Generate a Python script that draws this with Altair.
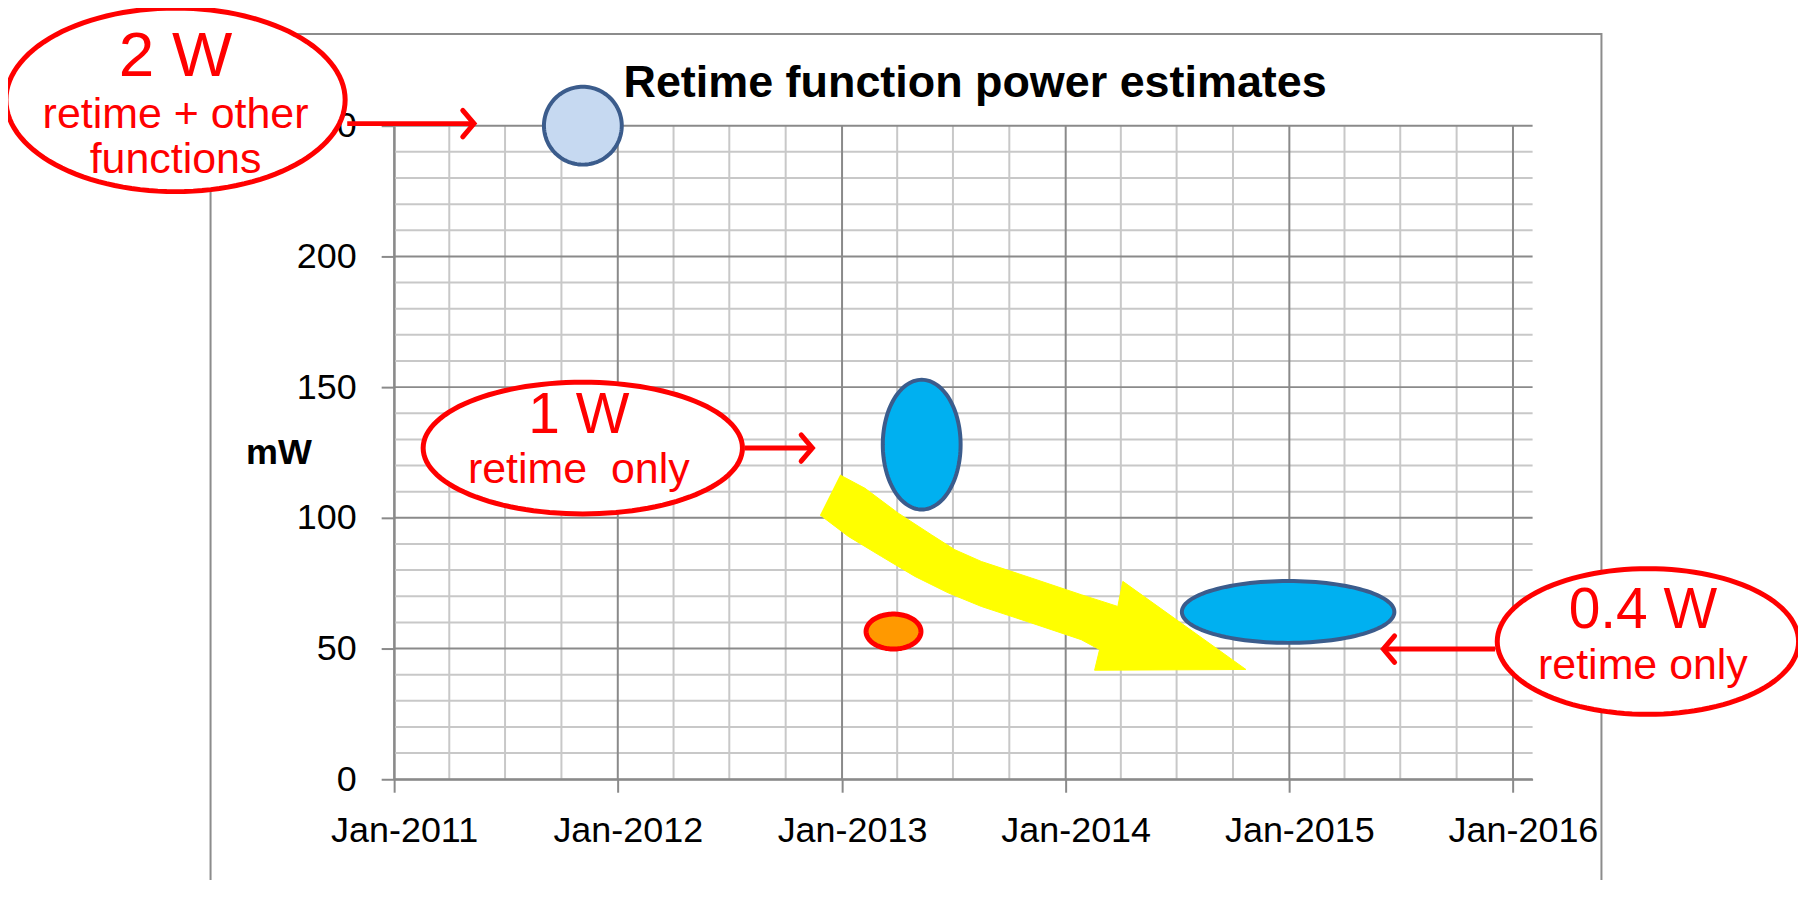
import math
import altair as alt
import pandas as pd

T0 = pd.Timestamp("2011-01-01")


def when(years_from_2011):
    """Convert a position given in years after Jan-2011 to a timestamp."""
    return T0 + pd.Timedelta(days=years_from_2011 * 365.25)


# ---------------- data ----------------
bubble_names = ["retime + other functions", "retime only (2013)", "early estimate", "retime only (2015)"]
bubble_dates = ["2011-11-05", "2013-05-11", "2013-03-26", "2014-12-30"]
bubble_mw = [250, 128, 56.5, 64]

x_tick_years = [2011, 2012, 2013, 2014, 2015, 2016]
x_minor_months = [4, 7, 10]
y_tick_values = [0, 50, 100, 150, 200, 250]
y_minor_values = [10, 20, 30, 40, 60, 70, 80, 90, 110, 120, 130, 140,
                  160, 170, 180, 190, 210, 220, 230, 240]

chart_title = "Retime function power estimates"
y_title = "mW"

# call-outs (positions in years after Jan-2011, and mW)
callout_big = ["2 W", "1 W", "0.4 W"]
callout_text_x = [-0.9768, 0.8252, 5.5799]
callout_big_y = [269.1, 132.4, 58.0]
callout_small = [["retime + other", "functions"], ["retime\u00a0 only"], ["retime only"]]
callout_small_y = [[249.2, 232.1], [113.4], [38.2]]
callout_ellipse_x = [-0.9768, 0.8430, 5.6022]
callout_ellipse_y = [259.9, 126.7, 52.7]
arrow_from = [-0.2096, 1.5656, 4.9197]
arrow_to = [0.3568, 1.8689, 4.4201]
arrow_y = [250.8, 126.7, 49.8]

# yellow trend arrow outline (years after Jan-2011, mW)
trend_x = [1.9924, 2.1039, 2.2525, 2.4010, 2.5053, 2.6240, 2.8470, 3.0700, 3.2337,
           3.2560, 3.8060, 3.1298, 3.1521,
           3.0700, 2.8470, 2.6240, 2.4755, 2.3269, 2.1780, 2.0294, 1.9032]
trend_y = [116.4, 111.3, 101.8, 93.5, 87.8, 83.3, 77.0, 70.6, 66.1,
           75.7, 42.0, 41.7, 49.6,
           53.4, 59.8, 66.1, 71.3, 77.6, 85.2, 92.9, 101.1]

# outer chart frame (years after Jan-2011, mW)
frame_x = [-0.8203, 5.3946]
frame_y = [285.1, -46.0]

title_x = 2.5959
title_y = 261.1

# ---------------- styles ----------------
FONT = "Liberation Sans"
MINOR = "#c8c8c8"
MAJOR = "#8a8a8a"
big_font_sizes = [64, 57, 57]


def ellipse_path(rx, ry, n=120):
    m = max(rx, ry)
    a, b = rx / m, ry / m
    pts = [f"{a * math.cos(2 * math.pi * k / n):.4f},{b * math.sin(2 * math.pi * k / n):.4f}"
           for k in range(n)]
    return "M" + " L".join(pts) + " Z", (2 * m) ** 2


bubble_styles = [
    dict(r=(39, 39), fill="#c6d9f1", stroke="#3b5c8c", sw=4),
    dict(r=(39, 65), fill="#00b0f0", stroke="#3b5c8c", sw=4),
    dict(r=(27.5, 17.5), fill="#ff9900", stroke="#ff0000", sw=5),
    dict(r=(106.5, 31), fill="#00b0f0", stroke="#3b5c8c", sw=4),
]
callout_radii = [(170, 92), (160, 66), (151, 73)]

xs = alt.Scale(domain=[alt.DateTime(year=2011, month=1, date=1),
                       alt.DateTime(year=2016, month=2, date=2)], nice=False)
ys = alt.Scale(domain=[0, 250], nice=False, zero=False)

x_axis = alt.Axis(values=[alt.DateTime(year=y, month=1, date=1) for y in x_tick_years],
                  format="%b-%Y", labelFont=FONT, labelFontSize=36, labelColor="#000000",
                  labelOffset=10, labelPadding=21, labelOverlap=False, labelFlush=False,
                  tickSize=13, tickWidth=2, tickColor=MAJOR,
                  domainColor=MAJOR, domainWidth=2, grid=False, title=None)
y_axis = alt.Axis(values=y_tick_values, labelFont=FONT, labelFontSize=36, labelColor="#000000",
                  labelPadding=25, labelOverlap=False, labelFlush=False,
                  tickSize=13, tickWidth=2, tickColor=MAJOR,
                  domainColor=MAJOR, domainWidth=2, grid=False,
                  title=y_title, titleFont=FONT, titleFontSize=36, titleFontWeight="bold",
                  titleColor="#000000", titleAngle=0, titleX=-116, titleY=328,
                  titleAlign="center", titleBaseline="middle")


def X(field="t"):
    return alt.X(f"{field}:T", scale=xs, axis=x_axis, title=None)


def Y(field="v"):
    return alt.Y(f"{field}:Q", scale=ys, axis=y_axis, title=y_title)


# ---------------- tables ----------------
bubbles = pd.DataFrame({"name": bubble_names,
                        "t": pd.to_datetime(bubble_dates),
                        "v": bubble_mw})

year_dates = [pd.Timestamp(year=y, month=1, day=1) for y in x_tick_years]
minor_dates = [pd.Timestamp(year=y, month=m, day=1)
               for y in x_tick_years[:-1] for m in x_minor_months]

layers = []

# frame
frame_df = pd.DataFrame({"t": [when(frame_x[0])], "t2": [when(frame_x[1])],
                         "v": [frame_y[0]], "v2": [frame_y[1]]})
layers.append(alt.Chart(frame_df).mark_rect(fill="transparent", stroke="#8c8c8c", strokeWidth=2)
              .encode(x=X(), x2=alt.X2("t2:T"), y=Y(), y2=alt.Y2("v2:Q")))

# grid
layers.append(alt.Chart(pd.DataFrame({"t": minor_dates})).mark_rule(color=MINOR, strokeWidth=2)
              .encode(x=X()))
layers.append(alt.Chart(pd.DataFrame({"v": y_minor_values})).mark_rule(color=MINOR, strokeWidth=2)
              .encode(y=Y()))
layers.append(alt.Chart(pd.DataFrame({"t": year_dates})).mark_rule(color=MAJOR, strokeWidth=2)
              .encode(x=X()))
layers.append(alt.Chart(pd.DataFrame({"v": y_tick_values})).mark_rule(color=MAJOR, strokeWidth=2)
              .encode(y=Y()))

# yellow trend arrow
trend_df = pd.DataFrame({"t": [when(v) for v in trend_x], "v": trend_y,
                         "i": list(range(len(trend_x)))})
layers.append(alt.Chart(trend_df).mark_line(filled=True, fill="#ffff00", stroke="#ffff00",
                                            strokeWidth=1, opacity=1)
              .encode(x=X(), y=Y(), order=alt.Order("i:Q")))

# bubbles
for name, st in zip(bubble_names, bubble_styles):
    path, size = ellipse_path(*st["r"])
    layers.append(alt.Chart(bubbles).transform_filter(alt.datum.name == name)
                  .mark_point(shape=path, size=size, filled=True, fill=st["fill"],
                              stroke=st["stroke"], strokeWidth=st["sw"], opacity=1)
                  .encode(x=X(), y=Y()))

# red arrows
arrows_df = pd.DataFrame({"t": [when(v) for v in arrow_from],
                          "t2": [when(v) for v in arrow_to],
                          "v": arrow_y,
                          "dir": ["right", "right", "left"]})
layers.append(alt.Chart(arrows_df).mark_rule(color="#ff0000", strokeWidth=5)
              .encode(x=X(), x2=alt.X2("t2:T"), y=Y()))
heads = {"right": "M -0.85,-1 L 0,0 L -0.85,1", "left": "M 0.85,-1 L 0,0 L 0.85,1"}
for d, p in heads.items():
    layers.append(alt.Chart(arrows_df).transform_filter(alt.datum.dir == d)
                  .mark_point(shape=p, size=700, filled=False, stroke="#ff0000",
                              strokeWidth=5, strokeCap="round", opacity=1)
                  .encode(x=X("t2"), y=Y()))

# call-out ellipses
call_df = pd.DataFrame({"t": [when(v) for v in callout_ellipse_x], "v": callout_ellipse_y,
                        "k": [0, 1, 2]})
for k, r in enumerate(callout_radii):
    path, size = ellipse_path(*r)
    layers.append(alt.Chart(call_df).transform_filter(alt.datum.k == k)
                  .mark_point(shape=path, size=size, filled=True, fill="#ffffff",
                              stroke="#ff0000", strokeWidth=5, opacity=1)
                  .encode(x=X(), y=Y()))

# call-out texts
big_df = pd.DataFrame({"t": [when(v) for v in callout_text_x], "v": callout_big_y,
                       "txt": callout_big, "k": [0, 1, 2]})
for k, fs in enumerate(big_font_sizes):
    layers.append(alt.Chart(big_df).transform_filter(alt.datum.k == k)
                  .mark_text(font=FONT, fontSize=fs, color="#ff0000",
                             align="center", baseline="alphabetic")
                  .encode(x=X(), y=Y(), text="txt:N"))
small_rows = []
for cx, lines, lys in zip(callout_text_x, callout_small, callout_small_y):
    for line, ly in zip(lines, lys):
        small_rows.append({"t": when(cx), "v": ly, "txt": line})
small_df = pd.DataFrame(small_rows)
layers.append(alt.Chart(small_df).mark_text(font=FONT, fontSize=43, color="#ff0000",
                                            align="center", baseline="alphabetic")
              .encode(x=X(), y=Y(), text="txt:N"))

# title
title_df = pd.DataFrame({"t": [when(title_x)], "v": [title_y], "txt": [chart_title]})
layers.append(alt.Chart(title_df).mark_text(font=FONT, fontSize=45, fontWeight="bold",
                                            color="#000000", align="center",
                                            baseline="alphabetic")
              .encode(x=X(), y=Y(), text="txt:N"))

chart = (alt.layer(*layers)
         .properties(width=1141, height=655,
                     padding={"left": 387, "top": 117, "right": 266, "bottom": 100},
                     autosize=alt.AutoSizeParams(type="none"),
                     background="#ffffff")
         .configure_view(stroke=None))

chart.save("out.html", embed_options={"renderer": "svg", "actions": False})
